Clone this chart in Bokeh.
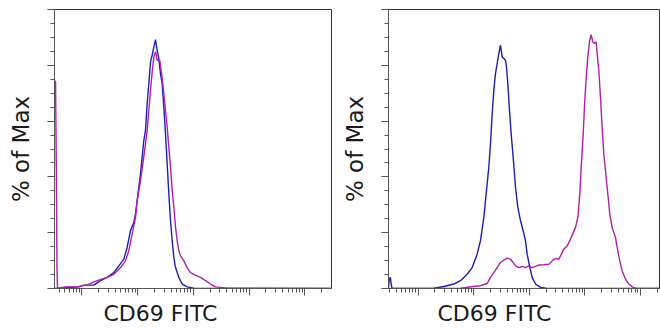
import numpy as np
from bokeh.plotting import figure
from bokeh.layouts import row
from bokeh.models import Range1d, FixedTicker, SingleIntervalTicker, Title
from bokeh.embed import file_html
from bokeh.resources import INLINE

# ---- data (x given as log10 of CD69 FITC intensity, y as % of Max) ----
left_blue_logx = [0.511, 0.947, 1.036, 1.216, 1.335, 1.455, 1.574, 1.664, 1.754, 1.813, 1.873, 1.933,
                  1.963, 1.993, 2.023, 2.053, 2.083, 2.112, 2.142, 2.172, 2.202, 2.232, 2.262, 2.292,
                  2.322, 2.351, 2.381, 2.411, 2.441, 2.471, 2.501, 2.531, 2.561, 2.591, 2.621, 2.651,
                  2.681, 2.740, 2.800, 2.889, 3.009, 3.129, 5.477]
left_blue_pct = [0.0, 0.6, 1.2, 1.2, 2.8, 4.0, 5.7, 8.1, 10.5, 14.7, 20.7, 23.7,
                 26.7, 31.5, 36.3, 41.1, 47.1, 53.0, 56.6, 66.2, 73.4, 81.2, 83.6, 86.6,
                 89.2, 85.4, 82.4, 77.0, 73.4, 65.0, 55.4, 44.7, 33.9, 24.3, 17.1, 11.1,
                 7.5, 4.0, 1.6, 0.6, 0.1, 0.0, 0.0]

left_mag_logx = [0.511, 0.530, 0.545, 0.555, 0.565, 0.600, 0.708, 0.917, 1.096, 1.275, 1.455, 1.574,
                 1.694, 1.783, 1.843, 1.903, 1.963, 1.993, 2.053, 2.112, 2.172, 2.202, 2.232, 2.262,
                 2.292, 2.322, 2.351, 2.399, 2.423, 2.453, 2.483, 2.531, 2.561, 2.591, 2.621, 2.651,
                 2.681, 2.711, 2.740, 2.770, 2.830, 2.889, 2.949, 3.009, 3.069, 3.129, 3.218, 3.308,
                 3.398, 3.487, 3.607, 5.477]
left_mag_pct = [74.3, 74.3, 40.0, 8.0, 0.3, 0.2, 0.6, 0.6, 1.3, 2.8, 4.0, 5.1,
                7.5, 9.9, 13.5, 19.5, 25.5, 31.5, 38.7, 47.1, 56.6, 63.8, 71.0, 77.6,
                82.9, 84.8, 81.8, 81.8, 78.2, 73.4, 67.4, 57.8, 50.6, 43.5, 35.1, 29.1,
                21.9, 17.1, 13.5, 11.7, 9.9, 7.5, 5.7, 5.1, 4.5, 4.0, 2.8, 1.6,
                0.6, 0.4, 0.1, 0.0]

right_blue_logx = [0.466, 0.480, 0.500, 0.515, 0.530, 1.282, 1.461, 1.641, 1.761, 1.881, 1.971, 2.061,
                   2.121, 2.181, 2.211, 2.271, 2.301, 2.331, 2.361, 2.391, 2.421, 2.451, 2.481, 2.511,
                   2.541, 2.571, 2.589, 2.613, 2.643, 2.673, 2.709, 2.751, 2.793, 2.841, 2.889, 2.931,
                   2.961, 3.009, 3.051, 3.111, 3.201, 3.321, 5.342]
right_blue_pct = [0.5, 3.0, 4.0, 1.5, 0.0, 0.1, 0.7, 1.6, 2.8, 5.1, 7.5, 12.3,
                  17.1, 25.5, 31.5, 43.5, 51.8, 62.6, 71.0, 77.0, 80.6, 84.2, 87.2, 83.0,
                  82.4, 81.8, 79.4, 73.4, 63.8, 55.4, 47.1, 36.3, 29.1, 24.3, 20.7, 17.1,
                  12.3, 7.5, 4.0, 1.6, 0.4, 0.0, 0.0]

right_mag_logx = [0.466, 1.761, 2.001, 2.121, 2.241, 2.301, 2.361, 2.421, 2.481, 2.541, 2.601, 2.661,
                  2.709, 2.751, 2.811, 2.871, 2.931, 2.991, 3.051, 3.111, 3.171, 3.261, 3.351, 3.411,
                  3.471, 3.531, 3.561, 3.621, 3.681, 3.741, 3.831, 3.873, 3.909, 3.933, 3.969, 3.998,
                  4.028, 4.052, 4.082, 4.112, 4.142, 4.172, 4.202, 4.220, 4.250, 4.280, 4.310, 4.340,
                  4.400, 4.448, 4.490, 4.550, 4.580, 4.628, 4.670, 4.730, 4.790, 4.850, 4.910, 5.000,
                  5.342]
right_mag_pct = [0.0, 0.1, 0.7, 1.0, 1.8, 4.0, 5.7, 7.5, 9.3, 10.2, 10.9, 10.5,
                 9.3, 8.1, 7.5, 7.9, 7.5, 8.1, 7.5, 7.9, 8.4, 8.5, 8.7, 9.9,
                 10.8, 10.5, 11.7, 14.1, 15.3, 17.7, 21.9, 25.5, 33.9, 43.5, 55.4, 67.4,
                 77.0, 83.0, 88.4, 91.0, 88.4, 87.8, 88.4, 84.2, 78.2, 68.6, 57.8, 48.3,
                 36.3, 26.7, 21.9, 18.3, 14.7, 9.9, 6.3, 3.4, 1.6, 0.6, 0.1, 0.0,
                 0.0]

x_label = "CD69 FITC"
y_label = "% of Max"
major_decades = [1, 2, 3, 4, 5]
minor_multipliers = [2, 3, 4, 5, 6, 7, 8, 9]

BLUE = "#1e1eae"
MAGENTA = "#b01eb0"
AXIS = "#555555"
HEIGHT = 329


def make_panel(width, border_left, border_right, x_lo, x_hi, blue_x, blue_y, mag_x, mag_y):
    p = figure(width=width, height=HEIGHT, output_backend="svg", toolbar_location=None,
               x_axis_type="log", x_range=Range1d(10 ** x_lo, 10 ** x_hi),
               y_range=Range1d(0, 100),
               min_border_left=border_left, min_border_right=border_right,
               min_border_top=9, min_border_bottom=HEIGHT - 288)
    p.grid.visible = False
    p.background_fill_color = "white"
    p.border_fill_color = "white"
    p.outline_line_color = "#333333"
    p.outline_line_width = 1

    p.line(10 ** np.array(blue_x), blue_y, line_color=BLUE, line_width=1.4)
    p.line(10 ** np.array(mag_x), mag_y, line_color=MAGENTA, line_width=1.4)

    majors = [10.0 ** d for d in major_decades]
    minors = [m * 10.0 ** d for d in range(0, 6) for m in minor_multipliers]
    p.xaxis.ticker = FixedTicker(ticks=majors, minor_ticks=minors)
    p.yaxis.ticker = SingleIntervalTicker(interval=20, num_minor_ticks=4)

    for ax in (p.xaxis[0], p.yaxis[0]):
        ax.axis_line_color = AXIS
        ax.major_tick_line_color = AXIS
        ax.minor_tick_line_color = AXIS
        ax.major_tick_out = 7
        ax.major_tick_in = 0
        ax.minor_tick_out = 4
        ax.minor_tick_in = 0
        ax.major_label_text_font_size = "1px"
        ax.major_label_text_alpha = 0
        ax.major_label_standoff = 0

    p.yaxis.axis_label = y_label
    p.yaxis.axis_label_text_font = "DejaVu Sans"
    p.yaxis.axis_label_text_font_size = "23px"
    p.yaxis.axis_label_text_font_style = "normal"
    p.yaxis.axis_label_text_color = "#1a1a1a"
    p.yaxis.axis_label_standoff = 14

    t = Title(text=x_label, align="left", offset=49, standoff=7,
              text_font="DejaVu Sans", text_font_size="22px", text_font_style="normal",
              text_color="#1a1a1a")
    p.add_layout(t, "below")
    return p


left = make_panel(338, 54, 7, 0.511, 5.477, left_blue_logx, left_blue_pct, left_mag_logx, left_mag_pct)
right = make_panel(322, 50, 1, 0.466, 5.342, right_blue_logx, right_blue_pct, right_mag_logx, right_mag_pct)

layout = row(left, right, spacing=0)
open("out.html", "w").write(file_html(layout, INLINE))
